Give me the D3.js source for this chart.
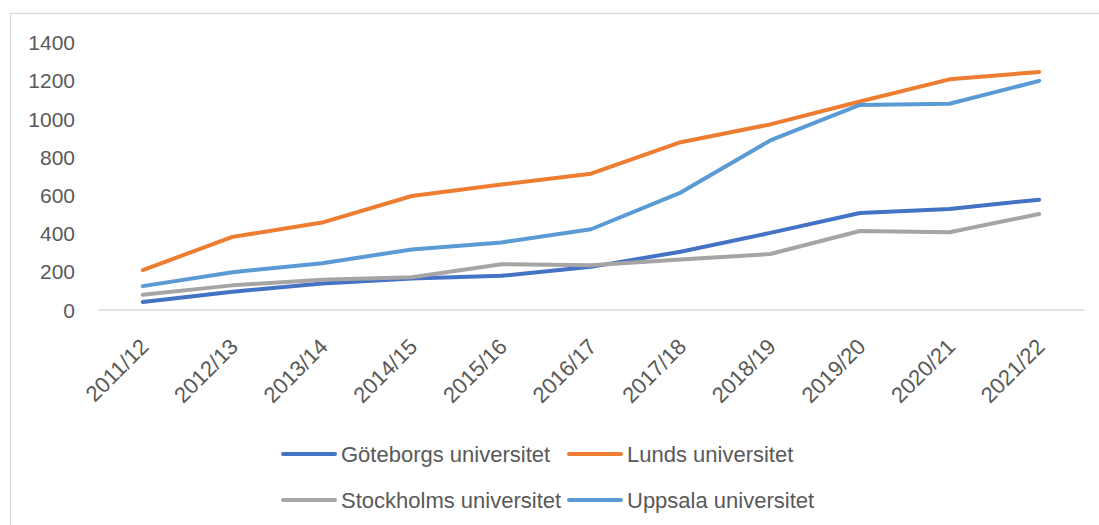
<!DOCTYPE html>
<html>
<head>
<meta charset="utf-8">
<script src="https://cdn.jsdelivr.net/npm/d3@7"></script>
<style>
  body { margin: 0; background: #fff; }
  text { font-family: "Liberation Sans", Arial, sans-serif; fill: #595959; }
</style>
</head>
<body>
<script>
const years = ['2011/12', '2012/13', '2013/14', '2014/15', '2015/16', '2016/17',
  '2017/18', '2018/19', '2019/20', '2020/21', '2021/22'];
const goteborg = [42, 96, 139, 165, 179, 226, 305, 404, 508, 529, 578];
const lund = [209, 383, 458, 597, 657, 714, 879, 972, 1092, 1208, 1247];
const stockholm = [80, 129, 159, 171, 240, 235, 265, 293, 414, 407, 503];
const uppsala = [125, 198, 245, 317, 354, 423, 615, 888, 1074, 1080, 1200];
const yTicks = [0, 200, 400, 600, 800, 1000, 1200, 1400];

const series = [
  { name: 'Göteborgs universitet', values: goteborg, color: '#4472C4' },
  { name: 'Lunds universitet', values: lund, color: '#ED7D31' },
  { name: 'Stockholms universitet', values: stockholm, color: '#A5A5A5' },
  { name: 'Uppsala universitet', values: uppsala, color: '#5B9BD5' }
];

const width = 1099, height = 525;
const plotLeft = 98, plotRight = 1084, plotTop = 42.7, plotBottom = 310;

const svg = d3.select('body').append('svg')
  .attr('width', width)
  .attr('height', height);

// chart area border, only top and left edges fall inside the picture
svg.append('rect')
  .attr('x', 10.5).attr('y', 13.5)
  .attr('width', width + 20).attr('height', height + 20)
  .attr('fill', 'none')
  .attr('stroke', '#d9d9d9').attr('stroke-width', 1.3);

const x = d3.scalePoint().domain(years).range([plotLeft, plotRight]).padding(0.5);
const y = d3.scaleLinear().domain([0, 1400]).range([plotBottom, plotTop]);

// y tick labels
svg.append('g')
  .selectAll('text')
  .data(yTicks)
  .enter()
  .append('text')
  .attr('x', 75)
  .attr('y', d => y(d))
  .attr('dy', '0.36em')
  .attr('text-anchor', 'end')
  .style('font-size', '21px')
  .text(d => d);

// baseline
svg.append('line')
  .attr('x1', plotLeft).attr('x2', plotRight)
  .attr('y1', y(0)).attr('y2', y(0))
  .attr('stroke', '#d9d9d9').attr('stroke-width', 1.5);

// x labels, rotated
svg.append('g')
  .selectAll('text')
  .data(years)
  .enter()
  .append('text')
  .attr('transform', d => 'translate(' + (x(d) + 7) + ',' + 348 + ') rotate(-45)')
  .attr('text-anchor', 'end')
  .style('font-size', '22px')
  .text(d => d);

const line = d3.line()
  .x((d, i) => x(years[i]))
  .y(d => y(d));

svg.append('g')
  .selectAll('path')
  .data(series)
  .enter()
  .append('path')
  .attr('d', d => line(d.values))
  .attr('fill', 'none')
  .attr('stroke', d => d.color)
  .attr('stroke-width', 4)
  .attr('stroke-linejoin', 'round')
  .attr('stroke-linecap', 'round');

// legend, two rows of two
const legendPos = [
  { lx: 283, ty: 454 }, { lx: 569, ty: 454 },
  { lx: 283, ty: 500 }, { lx: 569, ty: 500 }
];
const legend = svg.append('g')
  .selectAll('g')
  .data(series)
  .enter()
  .append('g')
  .attr('transform', (d, i) => 'translate(' + legendPos[i].lx + ',' + legendPos[i].ty + ')');

legend.append('line')
  .attr('x1', 0).attr('x2', 52)
  .attr('stroke', d => d.color)
  .attr('stroke-width', 4)
  .attr('stroke-linecap', 'round');

legend.append('text')
  .attr('x', 58)
  .attr('dy', '0.36em')
  .style('font-size', '22px')
  .text(d => d.name);
</script>
</body>
</html>
